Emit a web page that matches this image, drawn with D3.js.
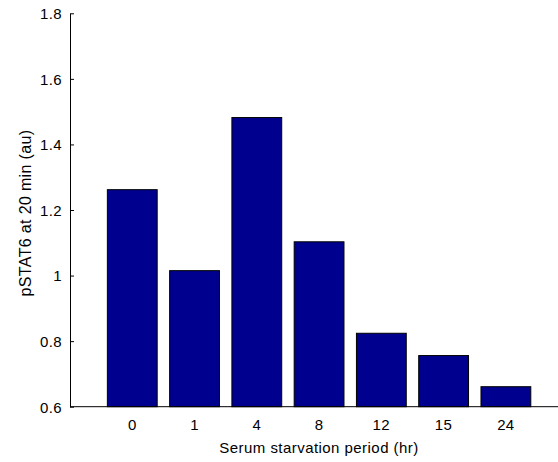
<!DOCTYPE html>
<html>
<head>
<meta charset="utf-8">
<script src="https://cdn.jsdelivr.net/npm/d3@7"></script>
<style>
  body { margin: 0; background: #fff; }
  svg { display: block; font-family: "Liberation Sans", Arial, sans-serif; }
</style>
</head>
<body>
<div id="chart"></div>
<script>
const CATEGORIES = ["0", "1", "4", "8", "12", "15", "24"];
const VALUES = [1.262, 1.015, 1.482, 1.103, 0.824, 0.756, 0.661];
const Y_TICKS = [0.6, 0.8, 1, 1.2, 1.4, 1.6, 1.8];

const W = 558, H = 462;
const plotLeft = 70, plotTop = 13.3, plotBottom = 406.7;
const FS = 15;

const svg = d3.select("#chart").append("svg").attr("width", W).attr("height", H);

// x: bar positions 1..7 on a 0..8 axis (right end falls outside the picture)
const x = d3.scaleLinear().domain([0, 8]).range([plotLeft, plotLeft + 8 * 62.27]);
const y = d3.scaleLinear().domain([0.6, 1.8]).range([plotBottom, plotTop]);
const barW = 0.8 * (x(1) - x(0));

// bars
svg.append("g").selectAll("rect").data(VALUES).enter().append("rect")
  .attr("x", (d, i) => x(i + 1) - barW / 2)
  .attr("y", d => y(d))
  .attr("width", barW)
  .attr("height", d => y(0.6) - y(d))
  .attr("fill", "#00008f")
  .attr("stroke", "#000")
  .attr("stroke-width", 1);

// y axis, ticks pointing inward
const yAxis = d3.axisLeft(y).tickValues(Y_TICKS).tickSizeInner(-4).tickSizeOuter(0)
  .tickFormat(d => String(+d.toFixed(1)));
const gy = svg.append("g").attr("transform", `translate(${plotLeft},0)`).call(yAxis);
gy.select(".domain").attr("stroke", "#000");
gy.selectAll(".tick line").attr("stroke", "#000");
gy.selectAll(".tick text").attr("x", -8).attr("dy", "0.36em")
  .attr("font-size", FS).attr("letter-spacing", 0.4).attr("fill", "#000");

// x axis line
svg.append("line")
  .attr("x1", plotLeft).attr("x2", W)
  .attr("y1", plotBottom).attr("y2", plotBottom)
  .attr("stroke", "#000");

// x tick labels
svg.append("g").selectAll("text").data(CATEGORIES).enter().append("text")
  .attr("x", (d, i) => x(i + 1))
  .attr("y", 429.5)
  .attr("text-anchor", "middle")
  .attr("font-size", FS)
  .attr("letter-spacing", 0.4)
  .text(d => d);

// axis titles
svg.append("text")
  .attr("x", 319).attr("y", 452.5)
  .attr("text-anchor", "middle")
  .attr("font-size", FS)
  .attr("letter-spacing", 0.45)
  .text("Serum starvation period (hr)");

svg.append("text")
  .attr("transform", `translate(31,213) rotate(-90)`)
  .attr("text-anchor", "middle")
  .attr("font-size", 16)
  .attr("letter-spacing", 0.35)
  .text("pSTAT6 at 20 min (au)");
</script>
</body>
</html>
